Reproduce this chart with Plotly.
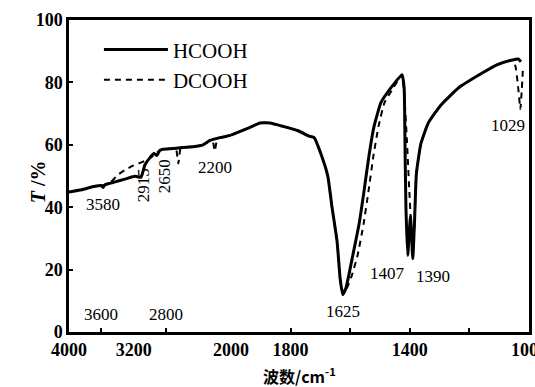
import plotly.graph_objects as go

# IR transmission spectra, wavenumber in cm^-1, transmittance in %
hcooh_wn = [4000, 3864, 3679, 3600, 3580, 3556, 3432, 3309, 3185, 3111, 3062, 3000,
            2950, 2915, 2880, 2840, 2716, 2650, 2469, 2346, 2259, 2136, 2000,
            1936, 1903, 1869, 1825, 1775, 1738, 1721, 1696, 1675, 1661, 1644, 1634,
            1625, 1614, 1591, 1570, 1554, 1537, 1520, 1497, 1463, 1426, 1419, 1416,
            1413, 1407, 1398, 1390, 1384, 1378, 1363, 1338, 1296, 1236, 1157, 1106,
            1055, 1036, 1027]
hcooh_t = [44.9, 45.5, 46.7, 46.9, 46.3, 47.2, 48.1, 49.0, 49.9, 49.6, 53.6, 55.9,
           57.2, 56.6, 58.2, 58.6, 58.8, 59.0, 59.4, 60.0, 61.4, 62.3, 63.1,
           65.6, 67.0, 67.0, 65.9, 64.5, 62.8, 62.3, 56.5, 49.9, 40.0, 29.0, 17.3,
           12.0, 14.2, 24.7, 34.7, 44.9, 56.5, 65.9, 73.5, 78.3, 82.5, 78.3, 59.4,
           40.0, 24.5, 37.0, 23.5, 35.7, 50.7, 60.3, 67.0, 72.7, 78.3, 83.0, 85.7,
           87.2, 87.5, 86.6]

dcooh_wn = [4000, 3864, 3679, 3600, 3556, 3494, 3395, 3309, 3210, 3123, 3037, 2975,
            2914, 2840, 2716, 2680, 2650, 2620, 2469, 2346, 2259, 2230, 2200, 2170,
            2136, 2000, 1936, 1903, 1869, 1825, 1775, 1738, 1721, 1696, 1675, 1661,
            1644, 1634, 1625, 1614, 1595, 1575, 1555, 1539, 1522, 1505, 1485, 1455,
            1426, 1418, 1410, 1402, 1395, 1390, 1384, 1378, 1363, 1338, 1296, 1236,
            1157, 1106, 1055, 1045, 1037, 1029, 1024, 1020]
dcooh_t = [44.9, 45.5, 46.7, 46.9, 47.2, 47.8, 50.4, 51.9, 53.3, 54.2, 55.1, 56.2,
           57.6, 58.6, 58.8, 58.9, 54.0, 59.0, 59.4, 60.0, 61.4, 61.8, 58.0, 62.0,
           62.3, 63.1, 65.6, 67.0, 67.0, 65.9, 64.5, 62.8, 62.3, 56.5, 49.9, 40.0,
           29.0, 17.3, 12.5, 13.5, 18.0, 24.7, 34.7, 44.9, 56.5, 65.9, 73.5, 78.3,
           82.5, 75.0, 62.0, 46.0, 33.0, 25.0, 35.7, 50.7, 60.3, 67.0, 72.7, 78.3,
           83.0, 85.7, 87.2, 85.0, 79.0, 71.5, 78.0, 85.0]

# Axis ticks (broken wavenumber axis: 4000-2000 compressed, 2000-1000 expanded)
AXIS_BREAK = 2000
left_range = [4000, 2000]
right_range = [2000, 1000]
left_labels = [4000, 3200]
left_marks = [3600, 2800]
right_labels = [2000, 1800, 1400, 1000]
right_marks = [1600, 1200]
y_ticks = [0, 20, 40, 60, 80, 100]

# Band assignments written next to the curves
band_labels = [
    # (wavenumber, series, placement)
    (3580, "H", "below"),
    (2915, "H", "vertical"),
    (2650, "D", "vertical_left"),
    (2200, "D", "below"),
    (1625, "H", "below"),
    (1407, "H", "below_left"),
    (1390, "H", "below_right"),
    (1029, "D", "below_rightedge"),
]

SERIF = "Liberation Serif, Times New Roman, serif"
INK = "#000000"

fig = go.Figure()

# plot area: 69..529 px wide, break at 231 px
brk = (231 - 69) / 460.0


def split(wn, t, left):
    if left:
        pts = [(w, v) for w, v in zip(wn, t) if w >= AXIS_BREAK]
    else:
        pts = [(w, v) for w, v in zip(wn, t) if w <= AXIS_BREAK]
    return [p[0] for p in pts], [p[1] for p in pts]


series = [
    ("HCOOH", hcooh_wn, hcooh_t, dict(color=INK, width=3)),
    ("DCOOH", dcooh_wn, dcooh_t, dict(color=INK, width=2, dash="6px,5px")),
]
for name, wn, t, line in series:
    for left, xa, ya in [(True, "x", "y"), (False, "x2", "y2")]:
        xs, ys = split(wn, t, left)
        fig.add_trace(go.Scatter(
            x=xs, y=ys, mode="lines", line=dict(shape="spline", smoothing=0.4, **line),
            name=name, legendgroup=name, showlegend=left,
            xaxis=xa, yaxis=ya, hoverinfo="skip",
        ))

axis_font = dict(family=SERIF, size=18, color=INK, weight="bold")
common_x = dict(showgrid=False, zeroline=False, showline=True, linecolor=INK,
                linewidth=2.5, mirror=True, tickfont=axis_font, anchor="y",
                tickcolor=INK, ticklabeloverflow="allow", automargin=False)

fig.update_layout(
    width=535, height=387,
    margin=dict(l=69, r=6, t=20, b=55, autoexpand=False),
    paper_bgcolor="white", plot_bgcolor="white",
    showlegend=True,
    legend=dict(x=0.065, y=0.97, xanchor="left", yanchor="top",
                bgcolor="rgba(0,0,0,0)", font=dict(family=SERIF, size=21, color=INK),
                itemwidth=64, tracegroupgap=0),
    xaxis=dict(domain=[0, brk], range=left_range, tickmode="array",
               tickvals=left_labels, ticktext=[str(v) for v in left_labels],
               ticks="", minor=dict(tickvals=left_marks, ticks="inside", ticklen=4,
                                    tickcolor=INK, tickwidth=1.5),
               **common_x),
    xaxis2=dict(domain=[brk, 1], range=right_range, tickmode="array",
                tickvals=right_labels, ticktext=[str(v) for v in right_labels],
                ticks="inside", ticklen=4, tickwidth=1.5,
                minor=dict(tickvals=right_marks, ticks="inside", ticklen=4,
                           tickcolor=INK, tickwidth=1.5),
                **{**common_x, "anchor": "y2"}),
    yaxis=dict(range=[0, 100], tickvals=y_ticks, ticks="inside", ticklen=4,
               tickwidth=1.5, tickcolor=INK, showgrid=False, zeroline=False,
               showline=True, linecolor=INK, linewidth=2.5, tickfont=axis_font,
               anchor="x", automargin=False),
    yaxis2=dict(range=[0, 100], matches="y", showgrid=False, zeroline=False,
                showline=True, linecolor=INK, linewidth=2.5, side="right",
                showticklabels=False, ticks="", anchor="x2", automargin=False),
)

# wavenumber labels of the inner tick marks
for w in left_marks:
    fig.add_annotation(x=w, xref="x", y=0, yref="paper", yanchor="bottom", yshift=6,
                       text=str(w), showarrow=False,
                       font=dict(family=SERIF, size=17, color=INK))

lookup = {"H": dict(zip(hcooh_wn, hcooh_t)), "D": dict(zip(dcooh_wn, dcooh_t))}
band_font = dict(family=SERIF, size=17, color=INK)
for w, s, place in band_labels:
    v = lookup[s][w]
    xref = "x" if w >= AXIS_BREAK else "x2"
    yref = "y" if w >= AXIS_BREAK else "y2"
    kw = dict(x=w, y=v, xref=xref, yref=yref, text=str(w), showarrow=False, font=band_font)
    if place == "below":
        kw.update(xanchor="center", yanchor="top", yshift=-5)
    elif place == "vertical":
        kw.update(textangle=-90, xanchor="center", yanchor="top", yshift=-11, xshift=-13)
    elif place == "vertical_left":
        kw.update(textangle=-90, xanchor="right", yanchor="top", yshift=6, xshift=-2)
    elif place == "below_left":
        kw.update(xanchor="right", yanchor="top", yshift=-6, xshift=-1)
    elif place == "below_right":
        kw.update(xanchor="left", yanchor="top", yshift=-6, xshift=1)
    elif place == "below_rightedge":
        kw.update(xanchor="right", yanchor="top", yshift=-5, xshift=7)
    fig.add_annotation(**kw)

# axis titles
fig.add_annotation(x=0.5, xref="paper", y=0, yref="paper", yanchor="top", yshift=-29,
                   text="波数/cm<sup>-1</sup>", showarrow=False,
                   font=dict(family="Noto Sans CJK SC, " + SERIF, size=16, color=INK,
                             weight="bold"))
fig.add_annotation(x=0, xref="paper", xshift=-44, y=0.48, yref="paper",
                   text="<i>T</i> /%", textangle=-90, showarrow=False,
                   font=dict(family=SERIF, size=20, color=INK, weight="bold"))

fig.write_html("out.html")
